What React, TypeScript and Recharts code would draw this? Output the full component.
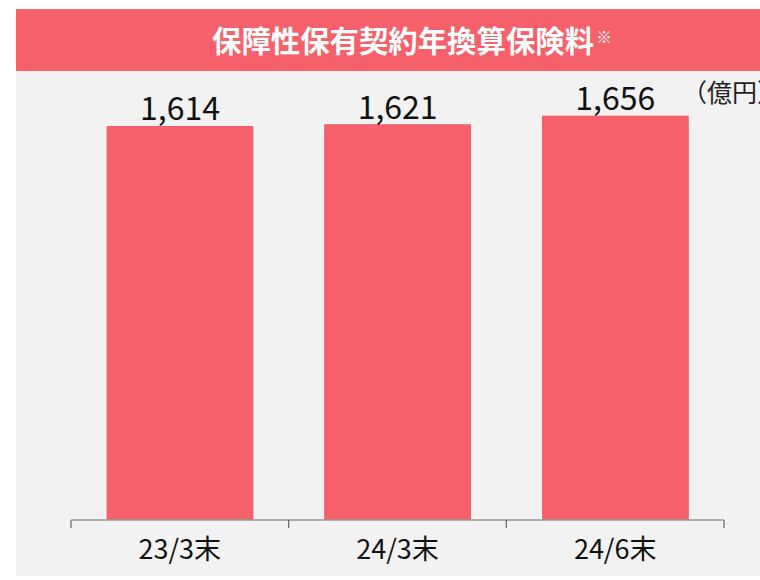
import { BarChart, Bar, XAxis, YAxis, LabelList } from 'recharts';

const categories = ['23/3末', '24/3末', '24/6末'];
const premiums = [1614, 1621, 1656];
const yTicks = [0, 2000];

const title = '保障性保有契約年換算保険料';
const unit = '（億円）';

const RED = '#F6606B';
const FONT = '"Noto Sans CJK JP", "Noto Sans", sans-serif';

const data = categories.map((name, i) => ({ name, value: premiums[i], slot: i }));

const formatValue = (v: number) => v.toLocaleString('en-US');

export default function App() {
  return (
    <div
      style={{
        position: 'absolute',
        top: 0,
        left: 0,
        width: 760,
        height: 580,
        overflow: 'hidden',
        background: '#fff',
        fontFamily: FONT,
      }}
    >
      <div style={{ position: 'absolute', left: 16, top: 9, width: 744, height: 62, background: RED }} />
      <div style={{ position: 'absolute', left: 16, top: 71, width: 744, height: 505, background: '#F2F2F2' }} />
      <div
        style={{
          position: 'absolute',
          left: 212,
          top: 23,
          color: '#fff',
          fontWeight: 700,
          fontSize: 29.4,
          lineHeight: '32px',
          whiteSpace: 'nowrap',
        }}
      >
        {title}
        <span style={{ fontSize: 16, fontWeight: 400, verticalAlign: 'top', position: 'relative', top: -3, marginLeft: 2 }}>※</span>
      </div>
      <div
        style={{
          position: 'absolute',
          left: 682,
          top: 76,
          fontSize: 25,
          lineHeight: '30px',
          color: '#222',
          whiteSpace: 'nowrap',
        }}
      >
        {unit}
      </div>
      <div style={{ position: 'absolute', left: 0, top: 0 }}>
        <BarChart
          width={760}
          height={580}
          data={data}
          margin={{ top: 31, right: 36, left: 71, bottom: 10 }}
        >
          <XAxis
            xAxisId="a_frame"
            type="number"
            dataKey="slot"
            domain={[0, categories.length]}
            ticks={[0, 1, 2, 3]}
            allowDataOverflow
            height={10}
            tickSize={8}
            tickFormatter={() => ''}
            axisLine={{ stroke: '#666', strokeWidth: 1.2 }}
            tickLine={{ stroke: '#666', strokeWidth: 1.2 }}
          />
          <XAxis
            xAxisId="b_cat"
            dataKey="name"
            height={40}
            axisLine={false}
            tickLine={false}
            tickMargin={4}
            tick={{ fontSize: 27, fill: '#111', fontFamily: FONT }}
          />
          <YAxis hide domain={[yTicks[0], yTicks[1]]} ticks={yTicks} />
          <Bar
            xAxisId="b_cat"
            dataKey="value"
            fill={RED}
            stroke="#fff"
            strokeWidth={1}
            barSize={148}
            isAnimationActive={false}
          >
            <LabelList
              dataKey="value"
              position="top"
              offset={5}
              formatter={(v: any) => formatValue(Number(v))}
              style={{ fontSize: 32, fill: '#111', fontFamily: FONT }}
            />
          </Bar>
        </BarChart>
      </div>
    </div>
  );
}
